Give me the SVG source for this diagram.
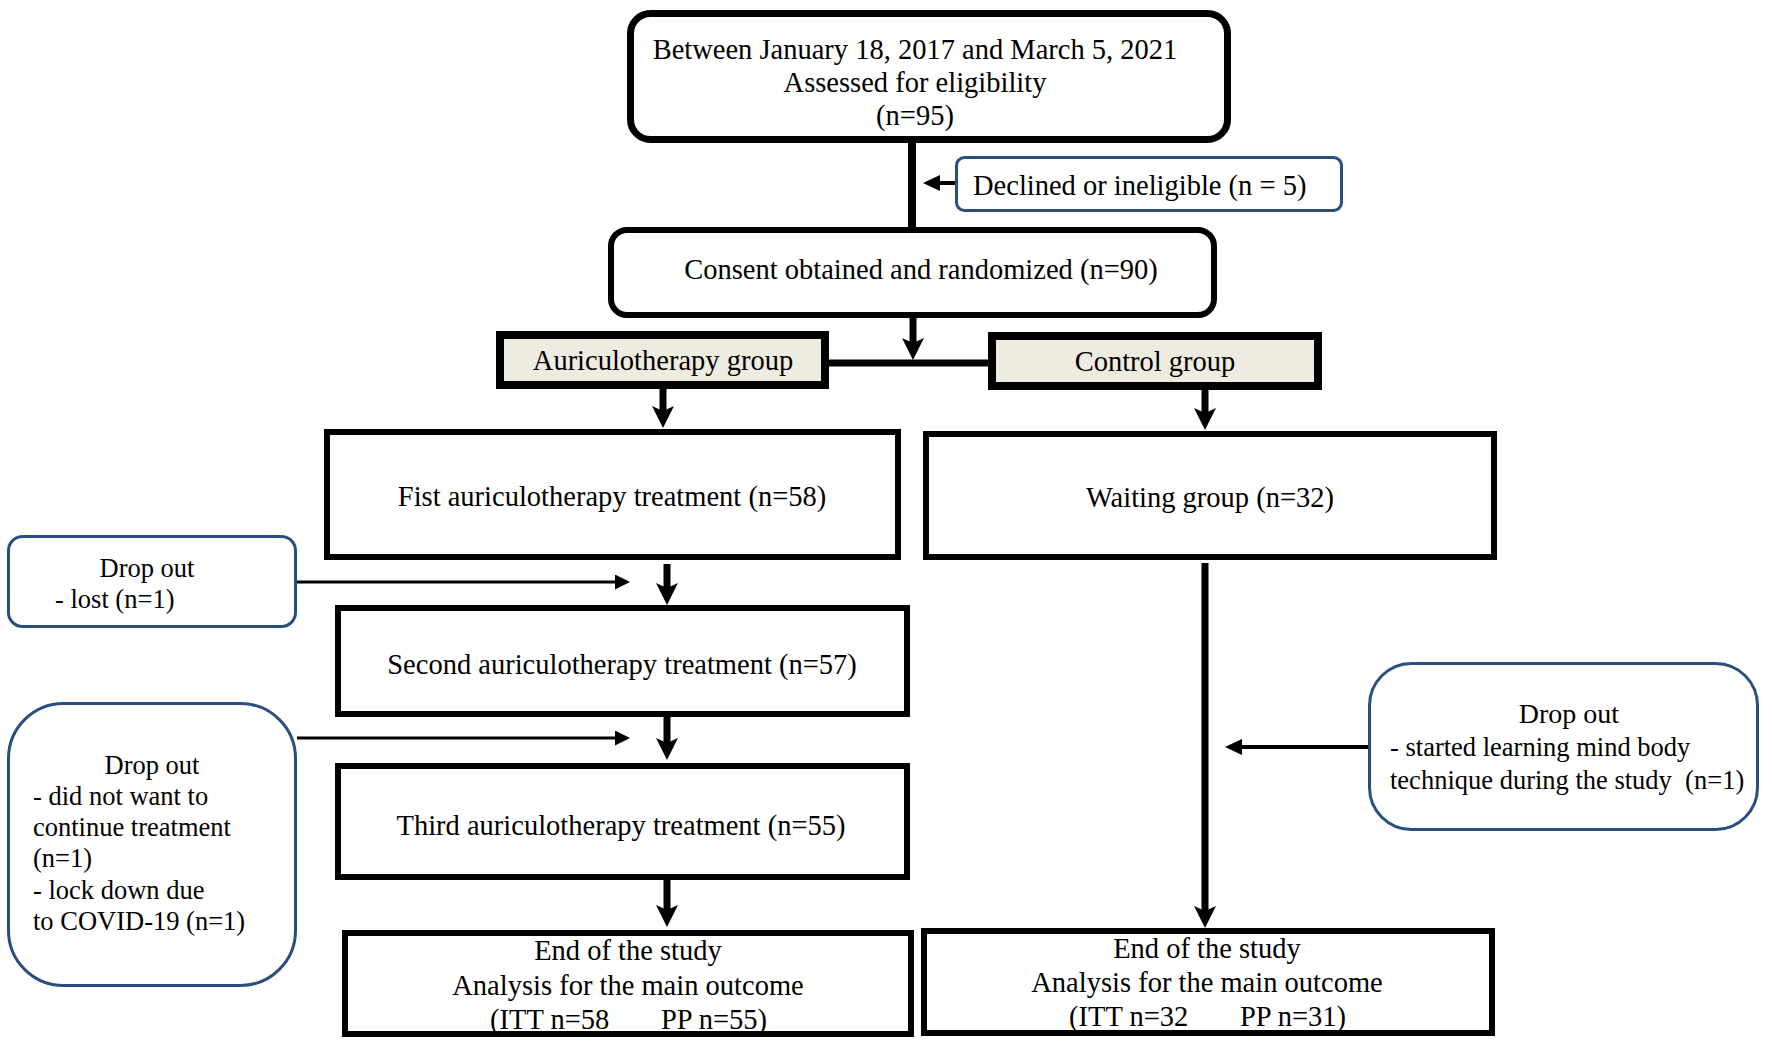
<svg xmlns="http://www.w3.org/2000/svg" width="1772" height="1047" viewBox="0 0 1772 1047">
<defs>
<style>
text{font-family:"Liberation Serif","Times New Roman",serif;fill:#000;}
.t{font-size:28.5px;}
.d{font-size:26.5px;}
.m{text-anchor:middle;}
.box{fill:#fff;stroke:#000;stroke-width:6;}
.top{fill:#fff;stroke:#000;stroke-width:7;}
.grp{fill:#EEECE1;stroke:#000;stroke-width:8;}
.blue{fill:#fff;stroke:#2A4F7F;stroke-width:3;}
.thick{stroke:#000;stroke-width:7;fill:none;}
.thin{stroke:#000;stroke-width:3;fill:none;}
.med{stroke:#000;stroke-width:4;fill:none;}
</style>
<marker id="ah" viewBox="0 0 22 22" markerWidth="22" markerHeight="22" refX="12" refY="11" orient="auto" markerUnits="userSpaceOnUse"><path d="M0,0 L22,11 L0,22 L5,11 z" fill="#000"/></marker>
<marker id="ahs" viewBox="0 0 15 15" markerWidth="15" markerHeight="15" refX="7" refY="7.5" orient="auto" markerUnits="userSpaceOnUse"><path d="M0,0 L15,7.5 L0,15 z" fill="#000"/></marker>
<marker id="ahm" viewBox="0 0 17 16" markerWidth="17" markerHeight="16" refX="8" refY="8" orient="auto" markerUnits="userSpaceOnUse"><path d="M0,0 L17,8 L0,16 z" fill="#000"/></marker>
</defs>
<rect width="1772" height="1047" fill="#fff"/>

<g id="connectors">
<line class="thick" style="stroke-width:8" x1="912" y1="143" x2="912" y2="228"/>
<line class="med" x1="955" y1="183" x2="932" y2="183" marker-end="url(#ahm)"/>
<line class="thick" x1="913" y1="318" x2="913" y2="350" marker-end="url(#ah)"/>
<line class="thick" x1="829" y1="363" x2="988" y2="363"/>
<line class="thick" x1="663" y1="389" x2="663" y2="418" marker-end="url(#ah)"/>
<line class="thick" x1="1205" y1="390" x2="1205" y2="420" marker-end="url(#ah)"/>
<line class="thick" x1="667" y1="564" x2="667" y2="595" marker-end="url(#ah)"/>
<line class="thick" x1="667" y1="717" x2="667" y2="750" marker-end="url(#ah)"/>
<line class="thick" x1="667" y1="880" x2="667" y2="917" marker-end="url(#ah)"/>
<line class="thick" x1="1205" y1="563" x2="1205" y2="918" marker-end="url(#ah)"/>
<line class="thin" x1="297" y1="582" x2="622" y2="582" marker-end="url(#ahs)"/>
<line class="thin" x1="297" y1="738" x2="622" y2="738" marker-end="url(#ahs)"/>
<line class="med" x1="1368" y1="747" x2="1234" y2="747" marker-end="url(#ahm)"/>
</g>

<g id="assessed">
<rect class="top" x="630.5" y="13.5" width="597" height="126" rx="20"/>
<text class="t m" x="915" y="59">Between January 18, 2017 and March 5, 2021</text>
<text class="t m" x="915" y="92">Assessed for eligibility</text>
<text class="t m" x="915" y="125">(n=95)</text>
</g>

<g id="declined">
<rect class="blue" x="956.5" y="157.5" width="385" height="53" rx="8"/>
<text class="t" x="973" y="195">Declined or ineligible (n = 5)</text>
</g>

<g id="consent">
<rect class="box" x="611" y="230" width="603" height="85" rx="16"/>
<text class="t m" x="921" y="279">Consent obtained and randomized (n=90)</text>
</g>

<g id="auriculotherapy-group">
<rect class="grp" x="500" y="335" width="325" height="50"/>
<text class="t m" x="663" y="370">Auriculotherapy group</text>
</g>

<g id="control-group">
<rect class="grp" x="992" y="336" width="326" height="50"/>
<text class="t m" x="1155" y="371">Control group</text>
</g>

<g id="first-treatment">
<rect class="box" x="327" y="432" width="571" height="125"/>
<text class="t m" x="612" y="506">Fist auriculotherapy treatment (n=58)</text>
</g>

<g id="waiting-group">
<rect class="box" x="926" y="434" width="568" height="123"/>
<text class="t m" x="1210" y="507">Waiting group (n=32)</text>
</g>

<g id="dropout-lost">
<rect class="blue" x="8.5" y="536.5" width="287" height="90" rx="14"/>
<text class="d m" x="147" y="577">Drop out</text>
<text class="d" x="55" y="608">- lost (n=1)</text>
</g>

<g id="second-treatment">
<rect class="box" x="338" y="608" width="569" height="106"/>
<text class="t m" x="622" y="674">Second auriculotherapy treatment (n=57)</text>
</g>

<g id="dropout-left">
<rect class="blue" x="8.5" y="703.5" width="287" height="282" rx="55"/>
<text class="d m" x="152" y="774">Drop out</text>
<text class="d" x="33" y="805">- did not want to</text>
<text class="d" x="33" y="836">continue treatment</text>
<text class="d" x="33" y="867">(n=1)</text>
<text class="d" x="33" y="899">- lock down due</text>
<text class="d" x="33" y="930">to COVID-19 (n=1)</text>
</g>

<g id="third-treatment">
<rect class="box" x="338" y="766" width="569" height="111"/>
<text class="t m" x="621" y="835">Third auriculotherapy treatment (n=55)</text>
</g>

<g id="dropout-right">
<rect class="blue" x="1369.5" y="663.5" width="388" height="166" rx="42"/>
<text class="m" style="font-size:28px" x="1569" y="723">Drop out</text>
<text class="d" x="1390" y="756">- started learning mind body</text>
<text class="d" x="1390" y="789" xml:space="preserve">technique during the study  (n=1)</text>
</g>

<g id="end-auriculotherapy">
<rect class="box" x="345" y="933" width="566" height="101"/>
<text class="t m" x="628" y="960">End of the study</text>
<text class="t m" x="628" y="995">Analysis for the main outcome</text>
<text class="t" y="1029"><tspan x="490">(ITT n=58</tspan><tspan x="661">PP n=55)</tspan></text>
</g>

<g id="end-control">
<rect class="box" x="924" y="931" width="568" height="102"/>
<text class="t m" x="1207" y="958">End of the study</text>
<text class="t m" x="1207" y="992">Analysis for the main outcome</text>
<text class="t" y="1026"><tspan x="1069">(ITT n=32</tspan><tspan x="1240">PP n=31)</tspan></text>
</g>
</svg>
